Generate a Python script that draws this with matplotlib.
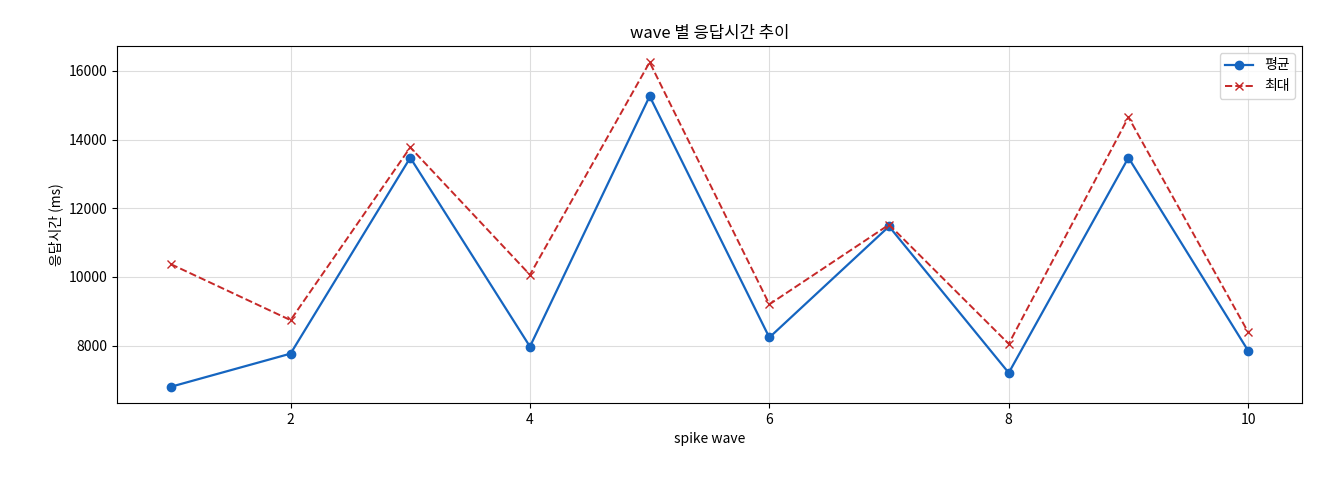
import matplotlib
matplotlib.use("Agg")
import matplotlib.pyplot as plt

plt.rcParams['font.family'] = ['Noto Sans CJK KR', 'DejaVu Sans']

waves = [1, 2, 3, 4, 5, 6, 7, 8, 9, 10]
avg_ms = [6800, 7765, 13470, 7970, 15260, 8235, 11470, 7206, 13470, 7850]
max_ms = [10370, 8740, 13770, 10060, 16250, 9200, 11520, 8050, 14650, 8390]

fig = plt.figure(figsize=(13.2, 4.8), dpi=100)
ax = fig.add_axes([117/1320, 1-403/480, (1302-117)/1320, (403-46)/480])
ax.plot(waves, avg_ms, color='#1565c0', marker='o', markersize=6, linewidth=1.6, label='평균')
ax.plot(waves, max_ms, color='#c62828', marker='x', markersize=6, linewidth=1.4, linestyle='--', label='최대')
ax.set_title('wave 별 응답시간 추이', fontsize=12)
ax.set_xlabel('spike wave', fontsize=10)
ax.set_ylabel('응답시간 (ms)', fontsize=10)
ax.set_xticks([2, 4, 6, 8, 10])
ax.set_yticks([8000, 10000, 12000, 14000, 16000])
ax.grid(True, color='#dddddd', linewidth=0.8)
ax.tick_params(labelsize=10)
ax.legend(loc='upper right', fontsize=10)
fig.savefig('out.png', dpi=100)
